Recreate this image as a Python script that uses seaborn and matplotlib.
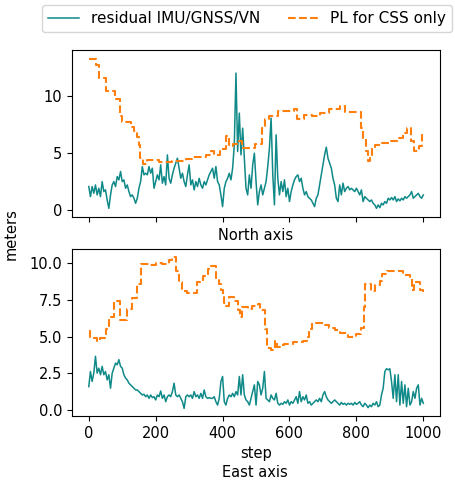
import numpy as np
import matplotlib
matplotlib.use("Agg")
import matplotlib.pyplot as plt
import seaborn as sns

# steps for the residual curves (every 5 steps)
steps = np.arange(0, 1001, 5)

# residual IMU/GNSS/VN, north axis
res_north = [
    2.07, 1.19, 2.07, 1.48, 2.21, 1.34, 1.92, 1.19, 2.50, 1.63, 1.78, 0.90, 0.17, 1.34, 2.21, 2.50,
    2.07, 2.94, 2.65, 3.38, 2.50, 2.65, 1.92, 2.21, 1.63, 1.19, 1.34, 1.05, 0.61, 1.05, 1.92, 2.50,
    3.81, 3.09, 3.23, 3.09, 3.81, 3.23, 3.67, 1.92, 2.50, 3.09, 2.65, 3.96, 2.36, 2.94, 2.21, 4.83,
    2.79, 2.36, 3.09, 3.67, 4.10, 4.54, 3.67, 2.79, 3.23, 2.50, 2.07, 3.09, 3.96, 2.21, 2.65, 1.78,
    2.50, 2.07, 2.79, 2.21, 1.92, 2.50, 2.21, 2.65, 3.09, 3.38,
    3.67, 2.79, 3.81, 2.50, 2.21, 1.34, 0.32, 1.92, 2.50, 2.79, 3.23, 2.65, 3.67, 5.71, 11.96, 5.12,
    8.47, 4.83, 7.16, 4.54, 1.92, 1.34, 3.09, 1.92, 3.96, 4.98, 2.50, 0.47, 1.63, 2.21, 1.34, 1.92,
    2.50, 3.81, 5.41, 8.03, 3.09, 0.47, 6.58, 2.79, 1.34, 2.50, 1.63, 2.65, 1.19, 1.92, 0.76, 1.63,
    2.21, 2.65, 2.94, 3.09, 2.50, 2.79, 1.92, 1.34, 1.63, 1.19, 1.05, 0.90, 0.61, 0.32, 1.05, 1.34,
    2.21, 3.09, 3.96, 4.83, 5.50, 4.54, 4.10, 3.67, 2.79, 2.21,
    1.05, 0.76, 2.21, 1.34, 2.36, 1.63, 1.92, 2.07, 1.78, 1.92, 1.78, 1.63, 1.92, 1.63, 1.34, 1.78,
    0.76, 1.19, 1.05, 0.90, 0.76, 0.90, 0.61, 0.47, 0.17, 0.47, 0.23, 0.61, 0.47, 0.76, 0.61, 1.05,
    0.90, 1.11, 0.90, 1.19, 0.76, 0.99, 0.82, 1.05, 0.90, 1.19, 1.05, 1.19, 1.34, 1.63, 1.05, 1.19,
    1.34, 1.48, 1.19, 1.05, 1.34,
]

# residual IMU/GNSS/VN, east axis
res_east = [
    1.58, 2.61, 1.93, 2.50, 3.65, 2.50, 2.84, 2.39, 2.96, 2.39, 2.61, 2.04, 2.39, 1.47, 2.50, 2.84,
    3.19, 3.07, 3.42, 2.96, 2.84, 2.39, 2.16, 2.04, 1.81, 1.70, 1.58, 1.47, 1.35, 1.35, 1.24, 1.12,
    1.01, 1.06, 0.89, 1.01, 0.78, 1.01, 0.83, 0.89, 0.67, 1.01, 0.89, 1.28, 0.78, 1.01, 0.55, 0.89,
    1.01, 0.89, 1.24, 1.81, 1.01, 0.89, 1.01, 0.78, 0.55, 0.09, 0.89, 1.01, 0.89, 1.01, 0.78, 1.24,
    0.89, 1.01, 0.78, 1.12, 0.78, 1.35, 0.89, 0.78, 0.83, 0.78,
    0.78, 0.89, 0.55, 0.32, 0.78, 1.93, 2.27, 0.55, 0.32, 0.78, 1.01, 0.89, 1.12, 0.89, 1.24, 1.01,
    2.27, 1.01, 2.39, 1.01, 0.67, 0.55, 0.32, 0.78, 1.24, 1.70, 0.32, 1.93, 1.70, 1.01, 1.47, 2.61,
    0.78, 0.67, 0.55, 1.01, 0.78, 0.67, 1.12, 0.44, 0.32, 0.44, 0.37, 0.55, 0.44, 0.67, 0.32, 0.55,
    0.44, 0.67, 0.89, 0.44, 1.24, 0.55, 0.89, 0.67, 1.01, 0.44, 0.55, 0.32, 0.44, 0.55, 0.67, 0.55,
    0.78, 0.55, 1.01, 1.24, 0.89, 0.67, 0.55, 0.44, 0.55, 0.67,
    0.55, 0.44, 0.32, 0.50, 0.37, 0.44, 0.32, 0.44, 0.37, 0.44, 0.32, 0.50, 0.37, 0.44, 0.55, 0.32,
    0.21, 0.44, 0.32, 0.14, 0.32, 0.21, 0.44, 0.32, 0.55, 0.21, 0.32, 1.01, 1.47, 2.61, 2.80, 2.73,
    2.80, 1.93, 0.78, 2.39, 0.55, 2.39, 0.32, 1.93, 0.44, 1.70, 0.21, 1.47, 0.32, 0.55, 1.24, 0.78,
    1.47, 1.70, 0.32, 0.78, 0.44,
]

# protection level (CSS only), piecewise constant: step where a level starts
pl_north_step = [0, 22, 30, 50, 78, 92, 100, 125, 135, 145, 150, 154, 162, 175, 210, 250, 290, 310,
                 350, 365, 375, 392, 410, 418, 432, 448, 458, 498, 518, 528, 540, 565, 612, 622,
                 642, 667, 690, 718, 752, 767, 815, 820, 830, 835, 840, 846, 856, 876, 898, 922,
                 938, 950, 964, 972, 986, 996, 1000]
pl_north = [13.2, 12.7, 11.5, 10.4, 9.7, 8.2, 7.7, 7.3, 6.9, 6.4, 5.7, 4.6, 4.05, 4.35, 4.2, 4.3,
            4.5, 4.65, 4.8, 5.2, 4.8, 5.3, 6.45, 5.6, 5.8, 6.0, 5.4, 5.8, 7.2, 8.0, 8.2, 8.65, 8.8,
            8.0, 8.3, 8.2, 8.5, 8.85, 9.05, 8.6, 7.2, 6.3, 5.15, 4.3, 4.75, 5.4, 5.65, 5.85, 6.0,
            6.3, 6.7, 7.2, 6.0, 5.15, 5.6, 6.6, 6.6]

pl_east_step = [0, 5, 10, 25, 35, 50, 60, 75, 94, 115, 130, 145, 155, 180, 200, 220, 240, 250,
                260, 270, 280, 295, 325, 340, 355, 365, 380, 388, 395, 400, 405, 410, 418, 435,
                445, 452, 458, 475, 488, 505, 513, 527, 533, 545, 558, 563, 575, 585, 610, 640,
                654, 659, 668, 700, 718, 735, 752, 775, 800, 815, 822, 826, 845, 855, 870, 878,
                890, 925, 940, 960, 966, 972, 990, 1000]
pl_east = [5.4, 5.0, 4.9, 4.7, 4.9, 5.5, 6.3, 7.4, 6.1, 6.9, 7.6, 8.6, 9.95, 9.85, 10.05, 9.95,
           10.2, 10.45, 9.5, 8.7, 8.1, 8.0, 8.7, 9.15, 9.6, 9.8, 9.0, 8.6, 8.2, 7.7, 7.3, 7.1, 7.7,
           7.4, 6.8, 6.3, 7.0, 6.85, 7.1, 7.2, 6.8, 5.5, 4.2, 4.1, 4.7, 4.3, 4.4, 4.5, 4.6, 4.7,
           5.0, 5.5, 5.95, 5.8, 5.6, 5.45, 5.25, 5.0, 5.2, 5.6, 7.0, 8.6, 8.1, 8.5, 8.8, 9.25,
           9.45, 9.5, 9.2, 8.9, 8.2, 8.7, 8.2, 8.05]

teal = "#0f8a88"
orange = "#ff7f0e"
fs = 10.5

fig = plt.figure(figsize=(4.56, 4.88), dpi=100)
ax1 = fig.add_axes([0.158, 0.555, 0.807, 0.342])
ax2 = fig.add_axes([0.158, 0.1475, 0.807, 0.342], sharex=ax1)

for ax, res, pl_x, pl_y in [(ax1, res_north, pl_north_step, pl_north),
                            (ax2, res_east, pl_east_step, pl_east)]:
    sns.lineplot(x=steps, y=res, ax=ax, color=teal, linewidth=1.1,
                 label="residual IMU/GNSS/VN")
    sns.lineplot(x=pl_x, y=pl_y, ax=ax, color=orange, linewidth=1.5,
                 linestyle="--", drawstyle="steps-post", label="PL for CSS only")
    ax.get_legend().remove()
    ax.tick_params(labelsize=fs)
    ax.set_ylabel("")

ax1.set_ylim(-0.6, 13.95)
ax1.set_yticks([0, 5, 10])
ax1.tick_params(labelbottom=False)
ax1.set_xlabel("North axis", fontsize=fs)

ax2.set_yticks([0, 2.5, 5, 7.5, 10])
ax2.set_yticklabels(["0.0", "2.5", "5.0", "7.5", "10.0"])
ax2.set_xlabel("step", fontsize=fs)
ax2.set_xlim(-50, 1050)
ax2.set_xticks([0, 200, 400, 600, 800, 1000])

fig.text(0.025, 0.52, "meters", rotation=90, ha="center", va="center", fontsize=fs)
fig.text(0.56, 0.031, "East axis", ha="center", va="center", fontsize=fs)

handles, labels = ax1.get_legend_handles_labels()
fig.legend(handles, labels, loc="upper left", bbox_to_anchor=(0.092, 0.99),
           borderaxespad=0, ncol=2, fontsize=11, columnspacing=1.8, frameon=True)

fig.savefig("out.png", dpi=100)
